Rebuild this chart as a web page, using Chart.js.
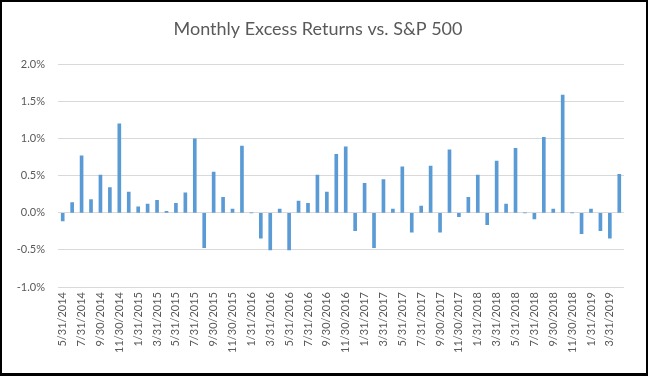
<!DOCTYPE html>
<html>
<head>
<meta charset="utf-8">
<script src="https://cdn.jsdelivr.net/npm/chart.js@4"></script>
<style>
  html, body { margin: 0; padding: 0; background: #000; }
  #frame { position: absolute; left: 2px; top: 2px; width: 644px; height: 371px; background: #fff; }
</style>
</head>
<body>
<div id="frame"><canvas id="excess" width="644" height="371"></canvas></div>
<script>
const months = [
  '5/31/2014', '6/30/2014', '7/31/2014', '8/31/2014', '9/30/2014', '10/31/2014', '11/30/2014', '12/31/2014',
  '1/31/2015', '2/28/2015', '3/31/2015', '4/30/2015', '5/31/2015', '6/30/2015', '7/31/2015', '8/31/2015',
  '9/30/2015', '10/31/2015', '11/30/2015', '12/31/2015', '1/31/2016', '2/29/2016', '3/31/2016', '4/30/2016',
  '5/31/2016', '6/30/2016', '7/31/2016', '8/31/2016', '9/30/2016', '10/31/2016', '11/30/2016', '12/31/2016',
  '1/31/2017', '2/28/2017', '3/31/2017', '4/30/2017', '5/31/2017', '6/30/2017', '7/31/2017', '8/31/2017',
  '9/30/2017', '10/31/2017', '11/30/2017', '12/31/2017', '1/31/2018', '2/28/2018', '3/31/2018', '4/30/2018',
  '5/31/2018', '6/30/2018', '7/31/2018', '8/31/2018', '9/30/2018', '10/31/2018', '11/30/2018', '12/31/2018',
  '1/31/2019', '2/28/2019', '3/31/2019', '4/30/2019'
];

// excess return vs S&P 500, in percent
const excessReturns = [
  -0.11, 0.14, 0.77, 0.18, 0.51, 0.34, 1.20, 0.28,
  0.08, 0.12, 0.17, 0.02, 0.13, 0.27, 1.00, -0.47,
  0.55, 0.21, 0.05, 0.90, 0.00, -0.34, -0.50, 0.05,
  -0.50, 0.16, 0.13, 0.51, 0.28, 0.79, 0.89, -0.24,
  0.40, -0.47, 0.45, 0.05, 0.62, -0.26, 0.09, 0.63,
  -0.26, 0.85, -0.05, 0.21, 0.51, -0.16, 0.70, 0.12,
  0.87, 0.00, -0.08, 1.02, 0.05, 1.59, 0.00, -0.28,
  0.05, -0.24, -0.34, 0.52
];

const yTicks = { min: -1.0, max: 2.0, step: 0.5 };

const grey = '#595959';
const font = "'Lato', 'Open Sans', sans-serif";

new Chart(document.getElementById('excess'), {
  type: 'bar',
  data: {
    labels: months,
    datasets: [{
      label: 'Excess Return',
      data: excessReturns,
      backgroundColor: '#5B9BD5',
      barThickness: 3,
    }],
  },
  options: {
    responsive: false,
    animation: false,
    layout: { padding: { left: 10, right: 22, top: 0, bottom: 6 } },
    plugins: {
      legend: { display: false },
      tooltip: { enabled: false },
      title: {
        display: true,
        text: 'Monthly Excess Returns vs. S&P 500',
        color: grey,
        font: { family: font, size: 18, weight: 'normal' },
        padding: { top: 16, bottom: 25 },
      },
    },
    scales: {
      x: {
        grid: { display: false, drawTicks: false },
        border: { display: false },
        afterFit: (scale) => { scale.height = 80; },
        ticks: {
          autoSkip: false,
          maxRotation: 90,
          minRotation: 90,
          padding: 5,
          color: grey,
          font: { family: font, size: 11 },
          // only every other month gets a label, like the original
          callback: function (value, index) {
            return index % 2 === 0 ? this.getLabelForValue(value) : '';
          },
        },
      },
      y: {
        min: yTicks.min,
        max: yTicks.max,
        grid: { color: '#d9d9d9', lineWidth: 1, drawTicks: false },
        border: { display: false },
        afterFit: (scale) => { scale.width = 46; },
        ticks: {
          stepSize: yTicks.step,
          padding: 13,
          color: grey,
          font: { family: font, size: 11 },
          callback: (v) => v.toFixed(1) + '%',
        },
      },
    },
  },
});
</script>
</body>
</html>
